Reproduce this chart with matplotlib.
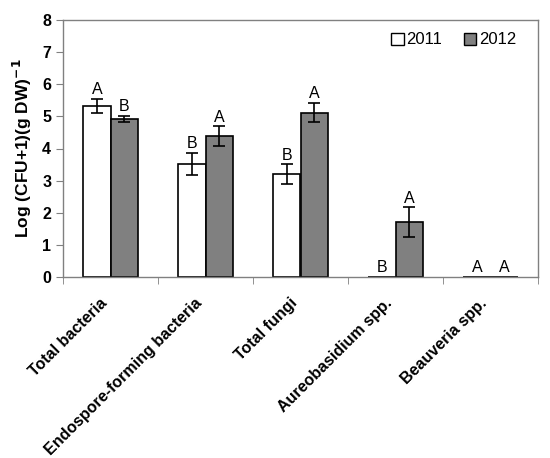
import numpy as np
import matplotlib
matplotlib.use("Agg")
import matplotlib.pyplot as plt
import matplotlib.transforms as mtransforms
from matplotlib.patches import Patch

plt.rcParams['font.family'] = ['Liberation Sans', 'DejaVu Sans']

# data
categories = ['Total bacteria', 'Endospore-forming bacteria', 'Total fungi',
              'Aureobasidium spp.', 'Beauveria spp.']
vals_2011 = [5.33, 3.52, 3.21, 0.0, 0.0]
err_2011 = [0.22, 0.34, 0.30, 0.0, 0.0]
vals_2012 = [4.91, 4.39, 5.12, 1.70, 0.0]
err_2012 = [0.10, 0.30, 0.31, 0.47, 0.0]
letters_2011 = ['A', 'B', 'B', 'B', 'A']
letters_2012 = ['B', 'A', 'A', 'A', 'A']

fig = plt.figure(figsize=(5.5, 4.58), dpi=100)
ax = fig.add_axes([63/550, 1 - 277/458, 475/550, 257/458])

x = np.arange(len(categories))
w = 0.285
ax.bar(x - w/2, vals_2011, w, color='white', edgecolor='black', linewidth=1.2, label='2011')
ax.bar(x + w/2, vals_2012, w, color='#808080', edgecolor='black', linewidth=1.2, label='2012')

# error bars only where there is spread
for xi, v, e in zip(x - w/2, vals_2011, err_2011):
    if e > 0:
        ax.errorbar(xi, v, yerr=e, color='black', capsize=4, elinewidth=1.2, capthick=1.2)
for xi, v, e in zip(x + w/2, vals_2012, err_2012):
    if e > 0:
        ax.errorbar(xi, v, yerr=e, color='black', capsize=4, elinewidth=1.2, capthick=1.2)

# significance letters
for xi, v, e, t in zip(x - w/2, vals_2011, err_2011, letters_2011):
    ax.text(xi, v + e + 0.05, t, ha='center', va='bottom', fontsize=11.5)
for xi, v, e, t in zip(x + w/2, vals_2012, err_2012, letters_2012):
    ax.text(xi, v + e + 0.05, t, ha='center', va='bottom', fontsize=11.5)

ax.set_xlim(-0.5, len(categories) - 0.5)
ax.set_ylim(0, 8)
ax.set_yticks(range(0, 9))
ax.set_yticklabels([str(i) for i in range(0, 9)], fontweight='bold', fontsize=11.5)

ax.set_xticks(x)
ax.set_xticklabels(categories, rotation=45, ha='right', rotation_mode='anchor',
                   fontweight='bold', fontsize=11.5)
ax.tick_params(axis='x', which='major', length=0, pad=8)
shift = mtransforms.ScaledTranslation(-0.11, -0.07, fig.dpi_scale_trans)
for lbl in ax.get_xticklabels():
    lbl.set_transform(lbl.get_transform() + shift)
ax.set_xticks(np.arange(-0.5, len(categories)), minor=True)
ax.tick_params(axis='x', which='minor', length=5, color='#808080', direction='out')
ax.tick_params(axis='y', length=5, color='#808080', direction='out')

for s in ax.spines.values():
    s.set_color('#808080')
    s.set_linewidth(1.0)

ax.set_ylabel('Log (CFU+1)(g DW)$^{\\mathbf{-1}}$', fontweight='bold', fontsize=12.5, labelpad=6)

handles = [Patch(facecolor='white', edgecolor='black', label='2011'),
           Patch(facecolor='#808080', edgecolor='black', label='2012')]
ax.legend(handles=handles, loc='upper right', ncol=2, frameon=False, fontsize=12,
          handlelength=0.75, handleheight=0.75, handletextpad=0.15, columnspacing=1.3,
          bbox_to_anchor=(0.985, 1.01))

fig.savefig('out.png', dpi=100)
